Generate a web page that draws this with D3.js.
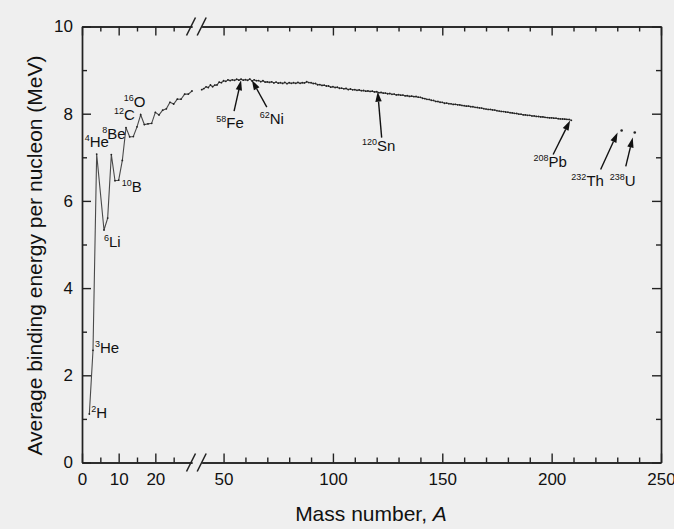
<!DOCTYPE html>
<html lang="en">
<head>
<meta charset="UTF-8">
<title>Average binding energy per nucleon</title>
<script src="https://d3js.org/d3.v7.min.js"></script>
<style>
  html, body { margin: 0; padding: 0; background: #efefef; }
  svg { display: block; font-family: "Liberation Sans", Arial, sans-serif; }
  .axis path, .axis line { stroke: #222; stroke-width: 1.4px; }
  .axis text { font-size: 17px; fill: #111; font-family: "Liberation Sans", Arial, sans-serif; }
  .curve { fill: none; stroke: #4a4a4a; stroke-width: 1.1px; }
  .pt { fill: #222; }
  .lbl { font-size: 15px; fill: #111; }
  .arrow { stroke: #111; stroke-width: 1.4px; }
  .title { font-size: 21px; fill: #111; }
</style>
</head>
<body>
<div id="chart"></div>
<script>
// light nuclei, A = 2..30 (most stable isobar; no bound A = 5)
const lightMass = [2, 3, 4, 6, 7, 8, 9, 10, 11, 12, 13, 14, 15, 16, 17, 18, 19, 20, 21, 22, 23, 24, 25, 26, 27, 28, 29, 30];
const lightBE = [1.112, 2.573, 7.074, 5.332, 5.606, 7.062, 6.463, 6.475, 6.928, 7.680, 7.470, 7.476, 7.699, 7.976,
  7.751, 7.767, 7.779, 8.032, 7.972, 8.080, 8.112, 8.261, 8.223, 8.334, 8.332, 8.448, 8.449, 8.521];

// heavier nuclei, A = 40..209, one value per mass number
const heavyStart = 40;
const heavyBE = [
  8.551, 8.576, 8.617, 8.601, 8.658, 8.619, 8.656, 8.661, 8.723, 8.711,  // 40-49
  8.756, 8.742, 8.776, 8.760, 8.778, 8.765, 8.790, 8.770, 8.792, 8.768,  // 50-59
  8.781, 8.765, 8.795, 8.752, 8.777, 8.757, 8.760, 8.734, 8.756, 8.725,  // 60-69
  8.730, 8.718, 8.732, 8.705, 8.725, 8.701, 8.711, 8.695, 8.718, 8.688,  // 70-79
  8.711, 8.696, 8.711, 8.696, 8.717, 8.697, 8.712, 8.705, 8.733, 8.714,  // 80-89
  8.710, 8.693, 8.693, 8.664, 8.667, 8.649, 8.654, 8.635, 8.635, 8.609,  // 90-99
  8.619, 8.601, 8.607, 8.584, 8.585, 8.571, 8.580, 8.554, 8.567, 8.548,  // 100-109
  8.551, 8.537, 8.545, 8.527, 8.532, 8.516, 8.523, 8.510, 8.517, 8.500,  // 110-119
  8.505, 8.482, 8.488, 8.472, 8.473, 8.458, 8.463, 8.445, 8.449, 8.431,  // 120-129
  8.438, 8.424, 8.428, 8.410, 8.414, 8.397, 8.403, 8.392, 8.394, 8.378,  // 130-139
  8.376, 8.354, 8.346, 8.330, 8.327, 8.309, 8.304, 8.281, 8.280, 8.263,  // 140-149
  8.262, 8.240, 8.244, 8.229, 8.227, 8.213, 8.215, 8.204, 8.202, 8.189,  // 150-159
  8.184, 8.173, 8.174, 8.162, 8.159, 8.147, 8.142, 8.132, 8.130, 8.115,  // 160-169
  8.106, 8.098, 8.097, 8.087, 8.084, 8.069, 8.061, 8.052, 8.049, 8.039,  // 170-179
  8.035, 8.023, 8.018, 8.008, 8.005, 7.991, 7.989, 7.974, 7.973, 7.963,  // 180-189
  7.963, 7.948, 7.948, 7.938, 7.936, 7.927, 7.927, 7.916, 7.912, 7.905,  // 190-199
  7.906, 7.898, 7.897, 7.886, 7.880, 7.878, 7.875, 7.870, 7.868, 7.848   // 200-209
];

// isolated actinides
const actMass = [232, 238];
const actBE = [7.615, 7.570];

// labelled nuclides
const labelMass = [2, 3, 4, 6, 8, 10, 12, 16, 58, 62, 120, 208, 232, 238];
const labelIso = ["2", "3", "4", "6", "8", "10", "12", "16", "58", "62", "120", "208", "232", "238"];
const labelSym = ["H", "He", "He", "Li", "Be", "B", "C", "O", "Fe", "Ni", "Sn", "Pb", "Th", "U"];
const labelArrow = [false, false, false, false, false, false, false, false, true, true, true, true, true, true];

// axis break and ticks
const breakLo = 30, breakHi = 40;
const xMajorLeft = [0, 10, 20], xMinorLeft = [5, 15, 25];
const xMajorRight = [50, 100, 150, 200, 250];
const xMinorRight = [60, 70, 80, 90, 110, 120, 130, 140, 160, 170, 180, 190, 210, 220, 230, 240];
const yMajor = [0, 2, 4, 6, 8, 10], yMinor = [1, 3, 5, 7, 9];

// layout (pixel offsets of labels relative to the data point)
const W = 674, H = 529;
const pLeft = 82, pRight = 661, pTop = 26.5, pBottom = 462.5;
const labelPos = {
  "2H":   { dx: 2,   dy: 4,   anchor: "start" },
  "3He":  { dx: 2,   dy: 3,   anchor: "start" },
  "4He":  { dx: -12, dy: -7,  anchor: "start" },
  "6Li":  { dx: 0,   dy: 17,  anchor: "start" },
  "8Be":  { dx: -9,  dy: -16, anchor: "start" },
  "10B":  { dx: 3,   dy: 12,  anchor: "start" },
  "12C":  { dx: -12, dy: -8,  anchor: "start" },
  "16O":  { dx: -17, dy: -8,  anchor: "start" },
  "58Fe": { dx: -11, dy: 49, anchor: "middle", tip: [0, 1],  tail: [-7, 32] },
  "62Ni": { dx: 22,  dy: 45, anchor: "middle", tip: [2, 1],  tail: [17, 28] },
  "120Sn":{ dx: 2,   dy: 59, anchor: "middle", tip: [1, 0],  tail: [5, 46] },
  "208Pb":{ dx: -19, dy: 48, anchor: "middle", tip: [1, 1],  tail: [-16, 35] },
  "232Th":{ dx: -34, dy: 56, anchor: "middle", tip: [-4, 2], tail: [-21, 39] },
  "238U": { dx: -12, dy: 54, anchor: "middle", tip: [-2, 5], tail: [-9, 34] }
};

const heavyMass = heavyBE.map((_, i) => heavyStart + i);

const xL = d3.scaleLinear().domain([0, breakLo]).range([pLeft, 192]);
const xR = d3.scaleLinear().domain([breakHi, 250]).range([201.7, pRight]);
const x = a => (a <= breakLo ? xL(a) : xR(a));
const y = d3.scaleLinear().domain([0, 10]).range([pBottom, pTop]);

const svg = d3.select("#chart").append("svg")
  .attr("width", W).attr("height", H);

svg.append("rect").attr("width", W).attr("height", H).attr("fill", "#efefef");

// --- axes ---
function hAxis(gen, scale, values, size, ty, labels) {
  return svg.append("g").attr("class", "axis")
    .attr("transform", `translate(0,${ty})`)
    .call(gen(scale).tickValues(values).tickSizeInner(size).tickSizeOuter(0)
      .tickPadding(10.5).tickFormat(labels ? d3.format("d") : ""));
}
// bottom
hAxis(d3.axisBottom, xL, xMajorLeft, -9, pBottom, true);
hAxis(d3.axisBottom, xL, xMinorLeft, -5, pBottom, false);
hAxis(d3.axisBottom, xR, xMajorRight, -9, pBottom, true);
hAxis(d3.axisBottom, xR, xMinorRight, -5, pBottom, false);
// top
hAxis(d3.axisTop, xL, xMajorLeft, -9, pTop, false);
hAxis(d3.axisTop, xL, xMinorLeft, -5, pTop, false);
hAxis(d3.axisTop, xR, xMajorRight, -9, pTop, false);
hAxis(d3.axisTop, xR, xMinorRight, -5, pTop, false);

// left / right
svg.append("g").attr("class", "axis").attr("transform", `translate(${pLeft},0)`)
  .call(d3.axisLeft(y).tickValues(yMajor).tickSizeInner(-9).tickSizeOuter(0).tickPadding(9).tickFormat(d3.format("d")));
svg.append("g").attr("class", "axis").attr("transform", `translate(${pLeft},0)`)
  .call(d3.axisLeft(y).tickValues(yMinor).tickSizeInner(-5).tickSizeOuter(0).tickFormat(""));
svg.append("g").attr("class", "axis").attr("transform", `translate(${pRight},0)`)
  .call(d3.axisRight(y).tickValues(yMajor).tickSizeInner(-9).tickSizeOuter(0).tickFormat(""));
svg.append("g").attr("class", "axis").attr("transform", `translate(${pRight},0)`)
  .call(d3.axisRight(y).tickValues(yMinor).tickSizeInner(-5).tickSizeOuter(0).tickFormat(""));

// axis break marks
[xL(breakLo) - 1, xR(breakHi)].forEach(bx => {
  [pTop, pBottom].forEach(by => {
    svg.append("line")
      .attr("x1", bx - 4.5).attr("y1", by + 9)
      .attr("x2", bx + 4.5).attr("y2", by - 9)
      .attr("stroke", "#222").attr("stroke-width", 1.5);
  });
});

// --- data ---
const line = d3.line().x(d => x(d[0])).y(d => y(d[1]));
const lightPts = lightMass.map((a, i) => [a, lightBE[i]]);
const heavyPts = heavyMass.map((a, i) => [a, heavyBE[i]]);

[lightPts, heavyPts].forEach(pts => {
  svg.append("path").datum(pts).attr("class", "curve").attr("d", line);
  svg.append("g").selectAll("circle").data(pts).enter().append("circle")
    .attr("class", "pt").attr("r", 0.9)
    .attr("cx", d => x(d[0])).attr("cy", d => y(d[1]));
});

svg.append("g").selectAll("circle").data(actMass.map((a, i) => [a, actBE[i]]))
  .enter().append("circle").attr("class", "pt").attr("r", 1.3)
  .attr("cx", d => x(d[0])).attr("cy", d => y(d[1]));

// --- labels & arrows ---
const beOf = a => {
  let i = lightMass.indexOf(a);
  if (i >= 0) return lightBE[i];
  i = heavyMass.indexOf(a);
  if (i >= 0) return heavyBE[i];
  return actBE[actMass.indexOf(a)];
};

labelMass.forEach((a, i) => {
  const key = labelIso[i] + labelSym[i];
  const p = labelPos[key];
  const px = x(a), py = y(beOf(a));
  if (labelArrow[i]) {
    const tx = px + p.tip[0], ty = py + p.tip[1];
    const sx = px + p.tail[0], sy = py + p.tail[1];
    const ang = Math.atan2(ty - sy, tx - sx);
    const len = 10, half = 3.2;
    const bx = tx - len * Math.cos(ang), by = ty - len * Math.sin(ang);
    svg.append("line").attr("class", "arrow")
      .attr("x1", sx).attr("y1", sy).attr("x2", bx).attr("y2", by);
    svg.append("path").attr("fill", "#111")
      .attr("d", `M${tx},${ty}L${bx + half * Math.sin(ang)},${by - half * Math.cos(ang)}L${bx - half * Math.sin(ang)},${by + half * Math.cos(ang)}Z`);
  }
  const t = svg.append("text").attr("class", "lbl")
    .attr("x", px + p.dx).attr("y", py + p.dy)
    .attr("text-anchor", p.anchor);
  t.append("tspan").attr("font-size", "9px").attr("dy", "-6").text(labelIso[i]);
  t.append("tspan").attr("dy", "6").text(labelSym[i]);
});

// --- titles ---
const xt = svg.append("text").attr("class", "title")
  .attr("x", 371).attr("y", 521).attr("text-anchor", "middle");
xt.append("tspan").text("Mass number, ");
xt.append("tspan").attr("font-style", "italic").text("A");

svg.append("text").attr("class", "title")
  .attr("transform", `translate(41.5,${(pTop + pBottom) / 2 + 11}) rotate(-90)`)
  .attr("text-anchor", "middle")
  .text("Average binding energy per nucleon (MeV)");
</script>
</body>
</html>
